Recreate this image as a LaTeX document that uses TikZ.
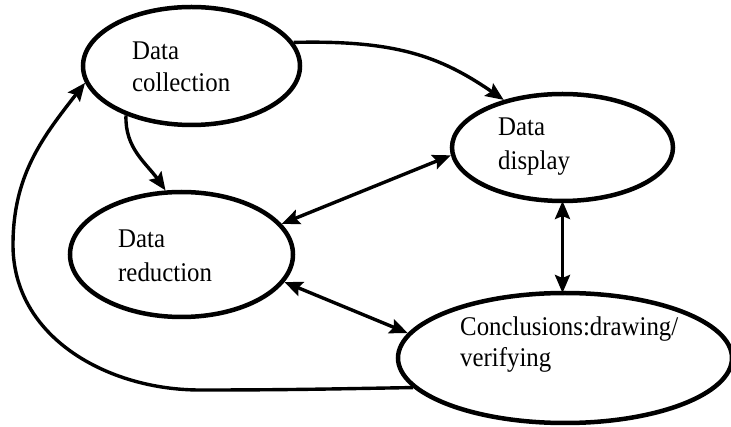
\documentclass[tikz,border=0pt]{standalone}
\usepackage{fontspec}
\setmainfont[FakeStretch=0.92]{Liberation Serif}
\usetikzlibrary{shapes.geometric,arrows.meta}
\tikzset{
  elli/.style={draw=black, ellipse, line width=4.5pt, inner sep=0pt},
  lbl/.style={anchor=base west, align=left, inner sep=0pt},
  tip/.tip={Stealth[length=18pt,width=15pt,inset=3pt]},
  conn/.style={line width=3.4pt, -tip},
  dconn/.style={line width=3.4pt, tip-tip}
}
\begin{document}
\begin{tikzpicture}[x=1pt,y=-1pt]
\fill[white] (0,0) rectangle (731,427);
\useasboundingbox (0,0) rectangle (731,427);
% ellipses
\node[elli, minimum width=217pt, minimum height=118pt] (col) at (191.5,66) {};
\node[elli, minimum width=221pt, minimum height=107pt] (disp) at (562.5,147.5) {};
\node[elli, minimum width=223pt, minimum height=125pt] (red) at (181.5,254.5) {};
\node[elli, minimum width=334pt, minimum height=130pt] (conc) at (565,358) {};
% labels (anchored at the baseline of the last line)
\node[lbl, font=\fontsize{27}{32}\selectfont] (tcol) at (132,92) {Data\\collection};
\node[lbl, font=\fontsize{27}{34}\selectfont] (tdisp) at (498,170) {Data\\display};
\node[lbl, font=\fontsize{27}{34}\selectfont] (tred) at (118,282) {Data\\reduction};
\node[lbl, font=\fontsize{27}{32}\selectfont] (tconc) at (460,367) {Conclusions:drawing/\\verifying};
% helper coordinates
\coordinate (lb) at (200,390);
\coordinate (lm) at (13,245);
% connectors
\draw[conn] (col.13) .. controls (395,40) and (440,56) .. (disp.141);
\draw[conn] (col.217) to[out=-92,in=125] (red.104);
\draw[dconn] (disp.184) -- (red.17);
\draw[dconn] (562.5,201) -- (562.5,293);
\draw[dconn] (red.-15) -- (conc.171);
\draw[conn] (conc.191) to[out=181,in=0] (lb) to[out=180,in=-90] (lm) to[out=90,in=232] (col.189);
\end{tikzpicture}
\end{document}
